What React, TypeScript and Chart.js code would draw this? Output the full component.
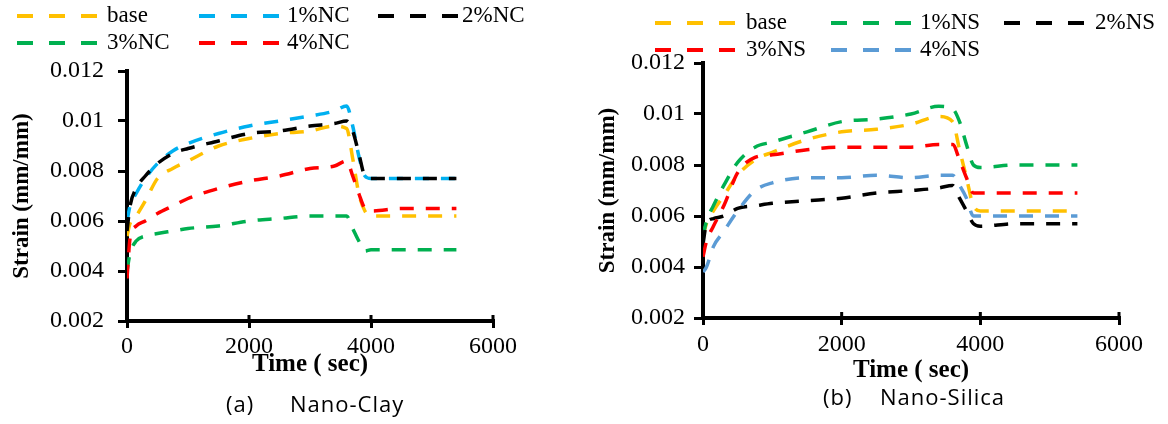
import React, { useEffect, useRef } from 'react';
import { Chart, registerables } from 'chart.js';

Chart.register(...registerables);

// ---------------- DATA ----------------
const timeSec = [0, 50, 150, 300, 500, 750, 1000, 1500, 2000, 2500, 3000, 3400, 3600, 3700, 3800, 3900, 4000, 4500, 5000, 5400];

const clayLabels = ['base', '1%NC', '2%NC', '3%NC', '4%NC'];
const clayBase = [0.0054, 0.0059, 0.0062, 0.0068, 0.0077, 0.0081, 0.0084, 0.0090, 0.0093, 0.0095, 0.0096, 0.0098, 0.0097, 0.0085, 0.0071, 0.0064, 0.0062, 0.0062, 0.0062, 0.0062];
const clay1NC = [0.0060, 0.0066, 0.0071, 0.0077, 0.0083, 0.0088, 0.0091, 0.0095, 0.0098, 0.0100, 0.0102, 0.0104, 0.0106, 0.0098, 0.0086, 0.0078, 0.0077, 0.0077, 0.0077, 0.0077];
const clay2NC = [0.0056, 0.0066, 0.0073, 0.0078, 0.0083, 0.0087, 0.0089, 0.0092, 0.0095, 0.0096, 0.0098, 0.0099, 0.0100, 0.0096, 0.0087, 0.0078, 0.0077, 0.0077, 0.0077, 0.0077];
const clay3NC = [0.0040, 0.0047, 0.0052, 0.0054, 0.0055, 0.0056, 0.0057, 0.0058, 0.0060, 0.0061, 0.0062, 0.0062, 0.0062, 0.0057, 0.0052, 0.0048, 0.00485, 0.00485, 0.00485, 0.00485];
const clay4NC = [0.0037, 0.0053, 0.0058, 0.0060, 0.0063, 0.0066, 0.0069, 0.0073, 0.0076, 0.0078, 0.0081, 0.0082, 0.0084, 0.0078, 0.0071, 0.0065, 0.0064, 0.0065, 0.0065, 0.0065];

const silicaLabels = ['base', '1%NS', '2%NS', '3%NS', '4%NS'];
const silicaBase = [0.0052, 0.0057, 0.0062, 0.0068, 0.0076, 0.0082, 0.0085, 0.0090, 0.0093, 0.0094, 0.0096, 0.0099, 0.0097, 0.0086, 0.0075, 0.0064, 0.0062, 0.0062, 0.0062, 0.0062];
const silica1NS = [0.0052, 0.0058, 0.0064, 0.0072, 0.0081, 0.0087, 0.0089, 0.0093, 0.0097, 0.0098, 0.0100, 0.0103, 0.0102, 0.0097, 0.0088, 0.0080, 0.0079, 0.0080, 0.0080, 0.0080];
const silica2NS = [0.0049, 0.0057, 0.0059, 0.0060, 0.0063, 0.0064, 0.0065, 0.0066, 0.0067, 0.0069, 0.0070, 0.0071, 0.0072, 0.0067, 0.0062, 0.0057, 0.0056, 0.0057, 0.0057, 0.0057];
const silica3NS = [0.0044, 0.0050, 0.0056, 0.0064, 0.0077, 0.0083, 0.0084, 0.0086, 0.0087, 0.0087, 0.0087, 0.0088, 0.0088, 0.0082, 0.0075, 0.0069, 0.0069, 0.0069, 0.0069, 0.0069];
const silica4NS = [0.0038, 0.0040, 0.0048, 0.0054, 0.0062, 0.0070, 0.0073, 0.0075, 0.0075, 0.0076, 0.0075, 0.0076, 0.0076, 0.0072, 0.0067, 0.0060, 0.0060, 0.0060, 0.0060, 0.0060];

const xTickLabels = ['0', '2000', '4000', '6000'];
const yTickLabels = ['0.002', '0.004', '0.006', '0.008', '0.01', '0.012'];

const xTitle = 'Time ( sec)';
const yTitle = 'Strain (mm/mm)';

// ---------------- STYLE ----------------
const YELLOW = '#FFC000';
const CYAN = '#00B0F0';
const BLACK = '#000000';
const GREEN = '#00B050';
const RED = '#FF0000';
const STEEL = '#5B9BD5';

const SERIF = '"Liberation Serif", serif';

type Spec = {
  labels: string[];
  series: number[][];
  colors: string[];
  left: number;
  width: number;
  height: number;
  padTop: number;
  padRight: number;
  yAxisWidth: number;
  xAxisHeight: number;
  yTickPad: number;
  xTickPad: number;
  yTitlePad: number;
  xTitlePad: number;
  legendLineX: number[];
  legendTextX: number[];
  legendRowY: number[];
};

const claySpec: Spec = {
  labels: clayLabels,
  series: [clayBase, clay1NC, clay2NC, clay3NC, clay4NC],
  colors: [YELLOW, CYAN, BLACK, GREEN, RED],
  left: 0,
  width: 560,
  height: 390,
  padTop: 71,
  padRight: 67,
  yAxisWidth: 127,
  xAxisHeight: 69,
  yTickPad: 14,
  xTickPad: 4,
  yTitlePad: 8,
  xTitlePad: 10,
  legendLineX: [17, 199, 378],
  legendTextX: [107, 287, 462],
  legendRowY: [16, 43],
};

const silicaSpec: Spec = {
  labels: silicaLabels,
  series: [silicaBase, silica1NS, silica2NS, silica3NS, silica4NS],
  colors: [YELLOW, GREEN, BLACK, RED, STEEL],
  left: 580,
  width: 588,
  height: 390,
  padTop: 63,
  padRight: 49,
  yAxisWidth: 123,
  xAxisHeight: 72,
  yTickPad: 9,
  xTickPad: 5,
  yTitlePad: 14,
  xTitlePad: 4,
  legendLineX: [75, 251, 424],
  legendTextX: [166, 340, 515],
  legendRowY: [23, 50],
};

function makeLegendPlugin(spec: Spec) {
  return {
    id: 'excelLegend',
    afterDraw(chart: any) {
      const ctx = chart.ctx as CanvasRenderingContext2D;
      ctx.save();
      chart.data.datasets.forEach((ds: any, i: number) => {
        const row = i < 3 ? 0 : 1;
        const col = i < 3 ? i : i - 3;
        const y = spec.legendRowY[row];
        const x0 = spec.legendLineX[col];
        ctx.strokeStyle = ds.borderColor;
        ctx.lineWidth = 4;
        ctx.lineCap = 'butt';
        ctx.setLineDash([16, 16]);
        ctx.beginPath();
        ctx.moveTo(x0, y);
        ctx.lineTo(x0 + 80, y);
        ctx.stroke();
        ctx.setLineDash([]);
        ctx.fillStyle = '#000';
        ctx.font = `23px ${SERIF}`;
        ctx.textAlign = 'left';
        ctx.textBaseline = 'middle';
        ctx.fillText(ds.label, spec.legendTextX[col], y);
      });
      ctx.restore();
    },
  };
}

// Excel-style x tick marks that cross the axis: draw the inner half
const crossTickPlugin = {
  id: 'crossTicks',
  afterDraw(chart: any) {
    const xs = chart.scales.x;
    const ctx = chart.ctx as CanvasRenderingContext2D;
    const bottom = chart.chartArea.bottom;
    ctx.save();
    ctx.strokeStyle = '#000';
    ctx.lineWidth = 3;
    xs.ticks.forEach((t: any) => {
      const px = xs.getPixelForValue(t.value);
      ctx.beginPath();
      ctx.moveTo(px, bottom);
      ctx.lineTo(px, bottom - 6);
      ctx.stroke();
    });
    ctx.restore();
  },
};

function StrainChart({ spec }: { spec: Spec }) {
  const ref = useRef<HTMLCanvasElement | null>(null);

  useEffect(() => {
    if (!ref.current) return;
    const n = spec.series.length;
    const datasets = spec.series.map((vals, i) => ({
      label: spec.labels[i],
      data: timeSec.map((t, k) => ({ x: t, y: vals[k] })),
      borderColor: spec.colors[i],
      backgroundColor: spec.colors[i],
      borderWidth: 3.5,
      borderDash: [14, 12],
      pointRadius: 0,
      fill: false,
      cubicInterpolationMode: 'monotone' as const,
      order: n - i,
    }));

    const tickFont = { family: SERIF, size: 24 };
    const xTitleFont = { family: SERIF, size: 25, weight: 'bold' as const };
    const yTitleFont = { family: SERIF, size: 23, weight: 'bold' as const };

    const chart = new Chart(ref.current, {
      type: 'line',
      data: { datasets },
      options: {
        animation: false,
        responsive: false,
        maintainAspectRatio: false,
        devicePixelRatio: 1,
        layout: { padding: { top: spec.padTop, right: spec.padRight, bottom: 0, left: 0 } },
        plugins: {
          legend: { display: false },
          tooltip: { enabled: false },
        },
        scales: {
          x: {
            type: 'linear',
            min: 0,
            max: 6000,
            afterFit: (s: any) => {
              s.height = spec.xAxisHeight;
            },
            ticks: {
              stepSize: 2000,
              color: '#000',
              font: tickFont,
              padding: spec.xTickPad,
              maxRotation: 0,
              autoSkip: false,
              callback: (_v: any, i: number) => xTickLabels[i] ?? '',
            },
            grid: { drawOnChartArea: false, drawTicks: true, tickLength: 7, color: '#000', lineWidth: 3 },
            border: { display: true, color: '#000', width: 4 },
            title: {
              display: true,
              text: xTitle,
              color: '#000',
              font: xTitleFont,
              padding: { top: 0, bottom: spec.xTitlePad },
            },
          },
          y: {
            type: 'linear',
            min: 0.002,
            max: 0.012,
            afterFit: (s: any) => {
              s.width = spec.yAxisWidth;
            },
            ticks: {
              stepSize: 0.002,
              color: '#000',
              font: tickFont,
              padding: spec.yTickPad,
              autoSkip: false,
              callback: (_v: any, i: number) => yTickLabels[i] ?? '',
            },
            grid: { drawOnChartArea: false, drawTicks: true, tickLength: 9, color: '#000', lineWidth: 3 },
            border: { display: true, color: '#000', width: 4 },
            title: {
              display: true,
              text: yTitle,
              color: '#000',
              font: yTitleFont,
              padding: { top: spec.yTitlePad, bottom: 0 },
            },
          },
        },
      },
      plugins: [makeLegendPlugin(spec), crossTickPlugin],
    } as any);

    return () => chart.destroy();
  }, [spec]);

  return (
    <canvas
      ref={ref}
      width={spec.width}
      height={spec.height}
      style={{ position: 'absolute', left: spec.left, top: 0, width: spec.width, height: spec.height }}
    />
  );
}

const captionStyle: React.CSSProperties = {
  position: 'absolute',
  fontFamily: '"Open Sans", "Noto Sans", sans-serif',
  fontSize: 22,
  lineHeight: '22px',
  letterSpacing: '1px',
  color: '#000',
  whiteSpace: 'nowrap',
};

export default function App() {
  return (
    <div
      style={{
        position: 'absolute',
        left: 0,
        top: 0,
        width: 1168,
        height: 424,
        background: '#fff',
        overflow: 'hidden',
      }}
    >
      <StrainChart spec={claySpec} />
      <StrainChart spec={silicaSpec} />
      <div style={{ ...captionStyle, left: 226, top: 392 }}>(a)</div>
      <div style={{ ...captionStyle, left: 290, top: 392 }}>Nano-Clay</div>
      <div style={{ ...captionStyle, left: 823, top: 385 }}>(b)</div>
      <div style={{ ...captionStyle, left: 880, top: 385 }}>Nano-Silica</div>
    </div>
  );
}
